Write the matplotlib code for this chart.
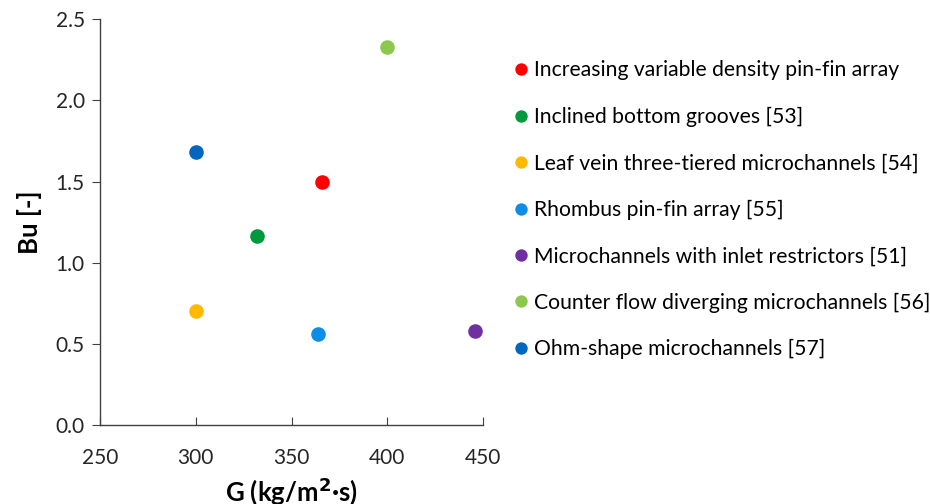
import matplotlib
matplotlib.use("Agg")
import matplotlib.pyplot as plt

# mass flux G and boiling number Bu for each microchannel design
labels = [
    "Increasing variable density pin-fin array",
    "Inclined bottom grooves [53]",
    "Leaf vein three-tiered microchannels [54]",
    "Rhombus pin-fin array [55]",
    "Microchannels with inlet restrictors [51]",
    "Counter flow diverging microchannels [56]",
    "Ohm-shape microchannels [57]",
]
G = [366, 332, 300, 364, 446, 400, 300]
Bu = [1.50, 1.165, 0.705, 0.563, 0.583, 2.33, 1.68]
colors = ["#FF0000", "#00993D", "#FFBA00", "#0D8DE6", "#7030A0", "#8DC84E", "#0066BE"]

plt.rcParams["font.family"] = ["Lato", "DejaVu Sans"]

fig = plt.figure(figsize=(9.3, 5.04), dpi=100)
ax = fig.add_axes([0.1075, 0.156, 0.412, 0.806])

for g, b, c, lab in zip(G, Bu, colors, labels):
    ax.plot(g, b, "o", color=c, markersize=10.5, markeredgewidth=0, label=lab)

ax.set_xlim(250, 450)
ax.set_ylim(0, 2.5)
ax.set_xticks([250, 300, 350, 400, 450])
ax.set_yticks([0.0, 0.5, 1.0, 1.5, 2.0, 2.5])
ax.set_yticklabels(["0.0", "0.5", "1.0", "1.5", "2.0", "2.5"])

for s in ["top", "right"]:
    ax.spines[s].set_visible(False)
for s in ["left", "bottom"]:
    ax.spines[s].set_color("#404040")
    ax.spines[s].set_linewidth(1.0)

ax.tick_params(axis="x", direction="in", length=6, color="#404040",
               labelsize=15, pad=16, labelcolor="#262626")
ax.tick_params(axis="y", direction="out", length=6, color="#404040",
               labelsize=15, pad=5, labelcolor="#262626")

ax.set_xlabel("G (kg/m$^\\mathbf{2}$·s)", fontsize=18.5, fontweight="bold", labelpad=5)
ax.set_ylabel("Bu [-]", fontsize=18.5, fontweight="bold", labelpad=10)

fig.legend(loc="upper left", bbox_to_anchor=(0.551, 0.88), frameon=False,
           fontsize=15.2, handlelength=0.8, handletextpad=0.22,
           labelspacing=1.25, markerscale=0.85, borderpad=0, borderaxespad=0)

fig.savefig("out.png", dpi=100)
